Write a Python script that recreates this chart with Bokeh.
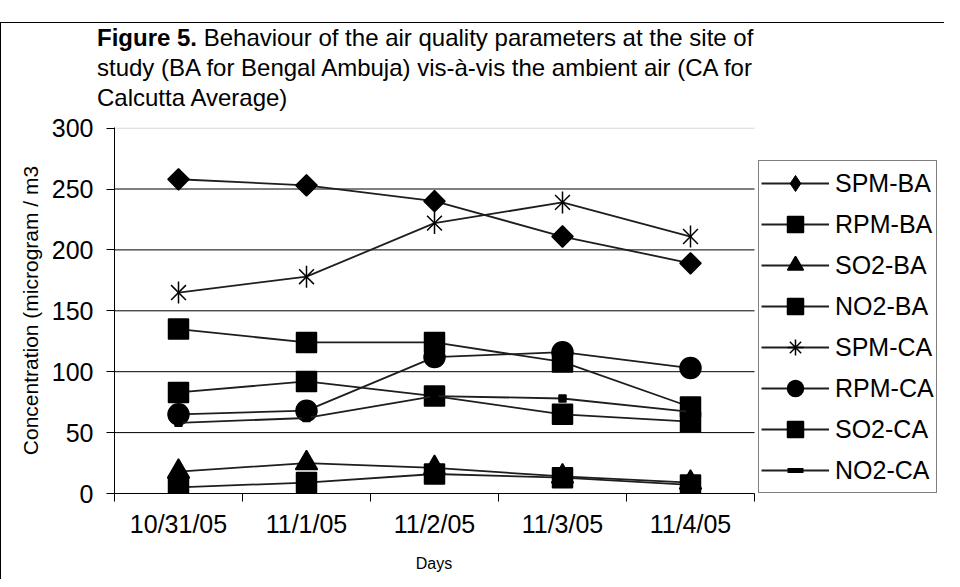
from bokeh.plotting import figure
from bokeh.layouts import column
from bokeh.models import Range1d, FixedTicker, Legend, LegendItem, Div
from bokeh.embed import file_html
from bokeh.resources import INLINE
import math

days = ["10/31/05", "11/1/05", "11/2/05", "11/3/05", "11/4/05"]
spm_ba = [258, 253, 240, 211, 189]
rpm_ba = [135, 124, 124, 108, 71]
so2_ba = [18, 25, 21, 14, 9]
no2_ba = [83, 92, 80, 65, 59]
spm_ca = [165, 178, 222, 239, 211]
rpm_ca = [65, 68, 112, 116, 103]
so2_ca = [5, 9, 16, 13, 7]
no2_ca = [58, 62, 80, 78, 67]
y_ticks = [0, 50, 100, 150, 200, 250, 300]

FONT = "Liberation Sans"
n = len(days)
xs = [i + 0.5 for i in range(n)]

# frame spans the plot area plus the legend area; category axis uses CAT_W px of it
FRAME_W = 826
CAT_W = 640
LEFT = 113

title_html = (
    '<div style="padding-left:96px; font-family:\'Liberation Sans\', Arial, sans-serif; '
    'font-size:24px; line-height:30px; color:#000; white-space:nowrap;">'
    '<b>Figure 5.</b> Behaviour of the air quality parameters at the site of<br>'
    'study (BA for Bengal Ambuja) vis-\u00e0-vis the ambient air (CA for<br>'
    'Calcutta Average)</div>'
)
title_div = Div(text=title_html, width=943, height=90, margin=0)

days_html = (
    '<div style="width:%dpx; text-align:center; font-family:\'Liberation Sans\', Arial, sans-serif; '
    'font-size:16px; line-height:30px; color:#000;">Days</div>' % (2 * LEFT + CAT_W)
)
days_div = Div(text=days_html, width=943, height=30, margin=0)

p = figure(width=943, height=436, output_backend="svg", toolbar_location=None,
           x_range=Range1d(0, n * FRAME_W / CAT_W), y_range=Range1d(0, 300.5),
           min_border_left=LEFT, min_border_right=4, min_border_top=14,
           min_border_bottom=56, margin=0)
p.outline_line_color = None
p.background_fill_color = "white"
p.border_fill_color = "white"

# x axis (category style: ticks between categories)
p.xaxis.bounds = (0, n)
p.xaxis.ticker = FixedTicker(ticks=xs, minor_ticks=list(range(n + 1)))
p.xaxis.major_label_overrides = {x: d for x, d in zip(xs, days)}
p.xaxis.major_tick_line_color = None
p.xaxis.major_tick_out = 0
p.xaxis.major_tick_in = 0
p.xaxis.minor_tick_line_color = "black"
p.xaxis.minor_tick_out = 8
p.xaxis.minor_tick_in = 0
p.xaxis.axis_line_color = "black"
p.xaxis.major_label_text_font = FONT
p.xaxis.major_label_text_font_size = "25px"
p.xaxis.major_label_text_color = "black"
p.xaxis.major_label_standoff = 8

p.yaxis.ticker = FixedTicker(ticks=y_ticks)
p.yaxis.minor_tick_line_color = None
p.yaxis.major_tick_out = 8
p.yaxis.major_tick_in = 0
p.yaxis.major_tick_line_color = "black"
p.yaxis.axis_line_color = "black"
p.yaxis.major_label_text_font = FONT
p.yaxis.major_label_text_font_size = "25px"
p.yaxis.major_label_text_color = "black"
p.yaxis.major_label_standoff = 13
p.yaxis.axis_label = "Concentration (microgram / m3"
p.yaxis.axis_label_text_font = FONT
p.yaxis.axis_label_text_font_style = "normal"
p.yaxis.axis_label_text_font_size = "21px"
p.yaxis.axis_label_text_color = "black"
p.yaxis.axis_label_standoff = 7

# horizontal gridlines limited to the category area
p.xgrid.grid_line_color = None
p.ygrid.grid_line_color = None
grid_y = y_ticks[1:-1]
p.segment(x0=[0] * len(grid_y), x1=[n] * len(grid_y), y0=grid_y, y1=grid_y,
          line_color="black", line_width=1)
p.segment(x0=[0], x1=[n], y0=[y_ticks[-1]], y1=[y_ticks[-1]],
          line_color="#cfcfcf", line_width=1)

LC = "#1e1e1e"
LW = 1.8
items = []

def series(label, vals, marker, size, angle=0.0, extra=None, legend_marker=None):
    rs = [p.line(xs, vals, line_color=LC, line_width=LW)]
    if legend_marker is not None:
        lm, lw = legend_marker
        rs.append(p.scatter(xs, vals, marker=lm, size=1, fill_color="black",
                            line_color="black", line_width=lw))
    main = p.scatter(xs, vals, marker=marker, size=size, angle=angle,
                     fill_color="black", line_color="black", line_width=1.5)
    if legend_marker is None:
        rs.append(main)
    if extra is not None:
        m2, s2, a2 = extra
        p.scatter(xs, vals, marker=m2, size=s2, angle=a2,
                  fill_color="black", line_color="black", line_width=1.5)
    items.append(LegendItem(label=label, renderers=rs))

series("SPM-BA", spm_ba, "square", 15, angle=math.pi / 4, legend_marker=("diamond", 1))
series("RPM-BA", rpm_ba, "square", 20)
series("SO2-BA", so2_ba, "triangle", 22)
series("NO2-BA", no2_ba, "square", 20)
series("SPM-CA", spm_ca, "x", 21, extra=("dash", 22, math.pi / 2), legend_marker=("asterisk", 1.5))
series("RPM-CA", rpm_ca, "circle", 21)
series("SO2-CA", so2_ca, "square", 20)
series("NO2-CA", no2_ca, "square", 7, legend_marker=("dash", 5))

legend = Legend(items=items, location=(CAT_W + 4, 0), orientation="vertical",
                label_text_font=FONT, label_text_font_size="25px",
                label_text_color="black", glyph_width=68, glyph_height=40,
                label_height=40, spacing=1, padding=2, margin=0,
                label_standoff=6, border_line_color="black", border_line_width=1,
                background_fill_alpha=1.0, level="overlay")
p.add_layout(legend, "center")

layout = column(title_div, p, days_div, spacing=0,
                styles={"margin-top": "22px", "border-top": "1px solid #000",
                        "border-left": "1px solid #000"})

open("out.html", "w").write(file_html(layout, INLINE))
